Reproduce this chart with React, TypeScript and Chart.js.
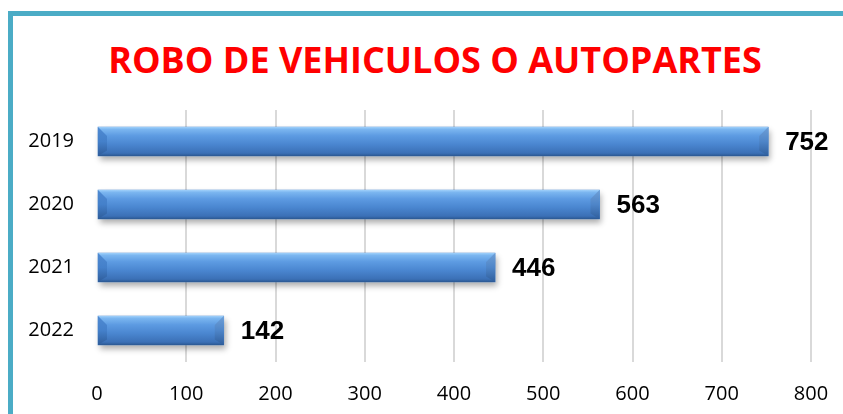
import React, { useEffect, useRef } from "react";
import { Chart, registerables } from "chart.js";

Chart.register(...registerables);

const titleText = "ROBO DE VEHICULOS O AUTOPARTES";
const categories = ["2019", "2020", "2021", "2022"];
const values = [752, 563, 446, 142];
const xMin = 0;
const xMax = 800;
const xStep = 100;

const bevelPlugin = {
  id: "bevelBars",
  beforeDatasetsDraw(chart: any) {
    const ctx = chart.ctx;
    const meta = chart.getDatasetMeta(0);
    meta.data.forEach((el: any) => {
      const p = el.getProps(["x", "y", "base", "height"], true);
      const L = Math.min(p.base, p.x);
      const R = Math.max(p.base, p.x);
      const T = p.y - p.height / 2;
      ctx.save();
      ctx.shadowColor = "rgba(0,0,0,0.32)";
      ctx.shadowBlur = 6;
      ctx.shadowOffsetX = 2;
      ctx.shadowOffsetY = 4;
      ctx.fillStyle = "#4683CD";
      ctx.fillRect(L, T, R - L, p.height);
      ctx.restore();
    });
  },
  afterDatasetsDraw(chart: any) {
    const ctx = chart.ctx;
    const meta = chart.getDatasetMeta(0);
    meta.data.forEach((el: any, i: number) => {
      const p = el.getProps(["x", "y", "base", "height"], true);
      const L = Math.min(p.base, p.x);
      const R = Math.max(p.base, p.x);
      const T = p.y - p.height / 2;
      const B = p.y + p.height / 2;
      const bx = 9;
      const by = 9;
      ctx.save();
      // body
      const g = ctx.createLinearGradient(0, T, 0, B);
      g.addColorStop(0, "#9FD0FA");
      g.addColorStop(0.08, "#7BB6F0");
      g.addColorStop(0.3, "#5D9BE2");
      g.addColorStop(0.6, "#4A86D0");
      g.addColorStop(0.9, "#3B70B6");
      g.addColorStop(1, "#2B5892");
      ctx.fillStyle = g;
      ctx.fillRect(L, T, R - L, B - T);
      // left face
      const gl = ctx.createLinearGradient(0, T, 0, B);
      gl.addColorStop(0, "#4F8AD2");
      gl.addColorStop(0.5, "#4480CA");
      gl.addColorStop(1, "#2E5C9A");
      ctx.fillStyle = gl;
      ctx.beginPath();
      ctx.moveTo(L, T);
      ctx.lineTo(L + bx, T + by);
      ctx.lineTo(L + bx, B - by * 0.6);
      ctx.lineTo(L, B);
      ctx.closePath();
      ctx.fill();
      // right face
      const gr = ctx.createLinearGradient(0, T, 0, B);
      gr.addColorStop(0, "#6F9FD6");
      gr.addColorStop(0.5, "#4E85C8");
      gr.addColorStop(1, "#2F5E9C");
      ctx.fillStyle = gr;
      ctx.beginPath();
      ctx.moveTo(R, T);
      ctx.lineTo(R - bx, T + by);
      ctx.lineTo(R - bx, B - by * 0.6);
      ctx.lineTo(R, B);
      ctx.closePath();
      ctx.fill();
      // value label
      ctx.fillStyle = "#000000";
      ctx.font = "bold 26px 'Liberation Sans', Arial, sans-serif";
      ctx.textAlign = "left";
      ctx.textBaseline = "middle";
      ctx.fillText(String(values[i]), R + 17, p.y + 1);
      ctx.restore();
    });
  },
};

export default function App() {
  const ref = useRef<HTMLCanvasElement | null>(null);

  useEffect(() => {
    if (!ref.current) return;
    const chart = new Chart(ref.current, {
      type: "bar",
      data: {
        labels: categories,
        datasets: [
          {
            data: values,
            backgroundColor: "#4683CD",
            borderWidth: 0,
            barThickness: 29,
          },
        ],
      },
      options: {
        indexAxis: "y",
        responsive: false,
        animation: false,
        devicePixelRatio: 1,
        layout: { padding: { top: 110, left: 27, right: 32, bottom: 0 } },
        plugins: {
          legend: { display: false },
          tooltip: { enabled: false },
          title: { display: false },
        },
        scales: {
          x: {
            min: xMin,
            max: xMax,
            ticks: {
              stepSize: xStep,
              color: "#000000",
              font: { family: "'Open Sans', sans-serif", size: 20 },
              padding: 20,
            },
            grid: {
              drawTicks: false,
              lineWidth: 2,
              color: (c: any) => (c.index === 0 ? "rgba(0,0,0,0)" : "#D9D9D9"),
            },
            border: { display: false },
            afterFit: (s: any) => {
              s.height = 52;
              s.paddingLeft = 0;
              s.paddingRight = 0;
            },
          },
          y: {
            ticks: {
              color: "#000000",
              font: { family: "'Open Sans', sans-serif", size: 20 },
              padding: 23,
            },
            grid: { display: false, drawTicks: false },
            border: { display: false },
            afterFit: (s: any) => {
              s.width = 70;
            },
          },
        },
      },
      plugins: [bevelPlugin],
    } as any);
    return () => chart.destroy();
  }, []);

  return (
    <div
      style={{
        position: "fixed",
        left: 0,
        top: 0,
        width: 843,
        height: 414,
        overflow: "hidden",
        background: "#ffffff",
      }}
    >
      <div
        style={{
          position: "absolute",
          left: 8,
          top: 11,
          width: 1000,
          height: 1000,
          borderLeft: "5px solid #4BACC6",
          borderTop: "5px solid #4BACC6",
        }}
      />
      <div
        style={{
          position: "absolute",
          left: 435 - 400,
          width: 800,
          top: 35,
          textAlign: "center",
          color: "#FF0000",
          fontFamily: "'Open Sans', sans-serif",
          fontWeight: 700,
          fontSize: 36,
          lineHeight: "50px",
          whiteSpace: "nowrap",
        }}
      >
        {titleText}
      </div>
      <canvas
        ref={ref}
        width={843}
        height={414}
        style={{ position: "absolute", left: 0, top: 0 }}
      />
    </div>
  );
}
